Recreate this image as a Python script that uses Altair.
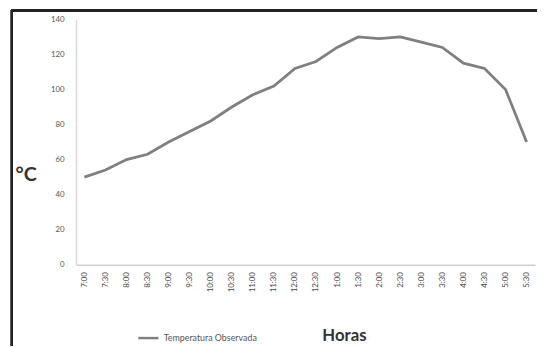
import altair as alt
import pandas as pd

horas = ["7:00", "7:30", "8:00", "8:30", "9:00", "9:30", "10:00", "10:30", "11:00", "11:30",
         "12:00", "12:30", "1:00", "1:30", "2:00", "2:30", "3:00", "3:30", "4:00", "4:30",
         "5:00", "5:30"]
temperatura = [50, 54, 60, 63, 70, 76, 82, 90, 97, 102,
               112, 116, 124, 130, 129, 130, 127, 124, 115, 112,
               100, 70]
serie = "Temperatura Observada"

df = pd.DataFrame({"hora": horas, "temp": temperatura, "serie": [serie] * len(horas)})

font = "Lato"

line = alt.Chart(df).mark_line(strokeWidth=2.8).encode(
    x=alt.X("hora:N", sort=horas,
            scale=alt.Scale(type="point", padding=0.4),
            axis=alt.Axis(title="Horas", labelAngle=-90, labelFontSize=8, labelColor="#444",
                          labelFont=font, ticks=False, labelPadding=7,
                          domainColor="#d0d0d0", domainWidth=1.5,
                          titleFont=font, titleFontSize=17, titleFontWeight="bold",
                          titleColor="#333", titleX=272, titleY=72, titleBaseline="middle",
                          titleAlign="center")),
    y=alt.Y("temp:Q", scale=alt.Scale(domain=[0, 140]),
            axis=alt.Axis(title="°C", values=list(range(0, 141, 20)), grid=False, ticks=False,
                          labelFontSize=8, labelColor="#555", labelFont=font, labelPadding=12,
                          domainColor="#d8d8d8", domainWidth=1.5,
                          titleAngle=0, titleFont=font, titleFontSize=20, titleFontWeight="bold",
                          titleColor="#333", titleX=-51, titleY=158, titleBaseline="middle",
                          titleAlign="center")),
    color=alt.Color("serie:N", scale=alt.Scale(range=["#7f7f7f"]),
                    legend=alt.Legend(title=None, orient="none", legendX=62, legendY=312,
                                      symbolType="stroke", symbolSize=420, symbolStrokeWidth=2.5,
                                      labelFont=font, labelFontSize=9, labelColor="#555"))
)

frame_left = alt.Chart(df).mark_rule(color="#222", strokeWidth=2).encode(
    x=alt.value(-65), y=alt.value(-9), y2=alt.value(340)
)
frame_top = alt.Chart(df).mark_rule(color="#222", strokeWidth=2).encode(
    x=alt.value(-66), x2=alt.value(480), y=alt.value(-9)
)

chart = alt.layer(line, frame_left, frame_top).properties(
    width=466, height=249,
    autosize=alt.AutoSizeParams(type="none"),
    padding={"left": 69, "top": 9, "right": 2, "bottom": 80},
).configure_view(stroke=None)

chart.save("out.html", embed_options={"renderer": "svg", "actions": False})
